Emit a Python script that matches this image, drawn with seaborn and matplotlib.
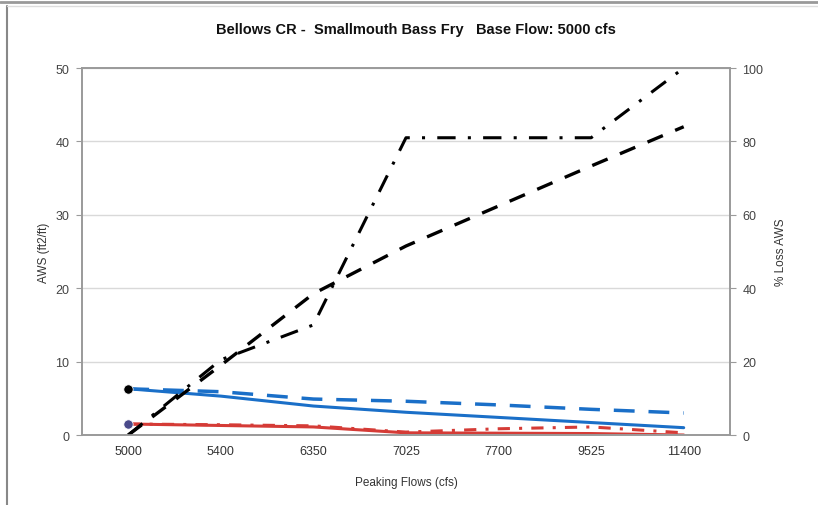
import numpy as np
import pandas as pd
import seaborn as sns
import matplotlib
matplotlib.use("Agg")
from matplotlib import pyplot as plt
from matplotlib.lines import Line2D

# data
flows = ['5000', '5400', '6350', '7025', '7700', '9525', '11400']
aws_blue_solid = [6.3, 5.3, 3.95, 3.1, 2.4, 1.7, 1.0]
aws_blue_dash = [6.3, 5.9, 4.9, 4.6, 4.1, 3.5, 3.0]
aws_red_solid = [1.5, 1.3, 1.1, 0.3, 0.25, 0.2, 0.0]
aws_red_dashdot = [1.5, 1.4, 1.25, 0.4, 0.85, 1.1, 0.3]
loss_dash = [0, 19, 38.5, 51.5, 62.4, 73.3, 84]
loss_dashdot = [0, 20.5, 30, 81, 81, 81, 100]

sns.set_style("white")
plt.rcParams['font.family'] = ['Liberation Sans', 'DejaVu Sans']

fig = plt.figure(figsize=(8.18, 5.06), dpi=100)
ax = fig.add_axes([0.1002, 0.1383, 0.7922, 0.7253])
ax2 = ax.twinx()

blue = '#1a6fc8'
red = '#d53b36'

df = pd.DataFrame({'flow': flows, 'bs': aws_blue_solid, 'bd': aws_blue_dash,
                   'rs': aws_red_solid, 'rd': aws_red_dashdot,
                   'ld': loss_dash, 'ldd': loss_dashdot})

sns.lineplot(data=df, x='flow', y='rs', ax=ax, color=red, lw=2.2, sort=False)
sns.lineplot(data=df, x='flow', y='rd', ax=ax, color=red, lw=2.2, sort=False,
             linestyle=(0, (4, 3, 1, 3)))
sns.lineplot(data=df, x='flow', y='bs', ax=ax, color=blue, lw=2.2, sort=False)
sns.lineplot(data=df, x='flow', y='bd', ax=ax, color=blue, lw=2.5, sort=False,
             linestyle=(0, (6, 4)))
sns.scatterplot(x=[flows[0]], y=[aws_blue_solid[0]], ax=ax, color='black', s=45, zorder=5)
sns.scatterplot(x=[flows[0]], y=[aws_red_solid[0]], ax=ax, color='#4a4a8a', s=45, zorder=5)

sns.lineplot(data=df, x='flow', y='ld', ax=ax2, color='black', lw=2.4, sort=False,
             linestyle=(0, (5, 4)))
sns.lineplot(data=df, x='flow', y='ldd', ax=ax2, color='black', lw=2.2, sort=False,
             linestyle=(0, (6, 4, 1, 4)))

ax.set_xlim(-0.5, 6.5)
ax.set_ylim(0, 50)
ax2.set_ylim(0, 100)
ax.set_yticks([0, 10, 20, 30, 40, 50])
ax2.set_yticks([0, 20, 40, 60, 80, 100])
ax.set_xticks(range(7))
ax.set_xticklabels(flows)
ax.set_xticks(np.arange(-0.5, 7, 1), minor=True)

ax.yaxis.grid(True, color='#d9d9d9', lw=1)
ax.set_axisbelow(True)

for a in (ax, ax2):
    for s in a.spines.values():
        s.set_color('#9a9a9a')
        s.set_linewidth(1.2)
ax.tick_params(axis='x', which='major', length=0, pad=7, labelsize=9, colors='#333333')
ax.tick_params(axis='x', which='minor', length=4, color='#9a9a9a', direction='out')
ax.tick_params(axis='y', length=4, color='#9a9a9a', labelsize=9, pad=5, labelcolor='#444444')
ax2.tick_params(axis='y', length=4, color='#9a9a9a', labelsize=9, pad=5, labelcolor='#444444')

ax.set_xlabel('Peaking Flows (cfs)', fontsize=8.5, labelpad=14, color='#333333')
ax.set_ylabel('AWS (ft2/ft)', fontsize=8.5, labelpad=4, color='#333333')
ax2.set_ylabel('% Loss AWS', fontsize=8.5, labelpad=8, color='#333333')

fig.text(0.508, 0.94, 'Bellows CR -  Smallmouth Bass Fry   Base Flow: 5000 cfs',
         ha='center', va='center', fontsize=10.5, fontweight='bold', color='#111111')

# chart frame
fig.add_artist(Line2D([0.009, 0.009], [0.0, 0.986], transform=fig.transFigure, color='#888888', lw=1.5))
fig.add_artist(Line2D([0.0, 1.0], [0.995, 0.995], transform=fig.transFigure, color='#999999', lw=2))
fig.add_artist(Line2D([0.009, 1.0], [0.986, 0.986], transform=fig.transFigure, color='#dddddd', lw=1))

fig.savefig('out.png', dpi=100)
